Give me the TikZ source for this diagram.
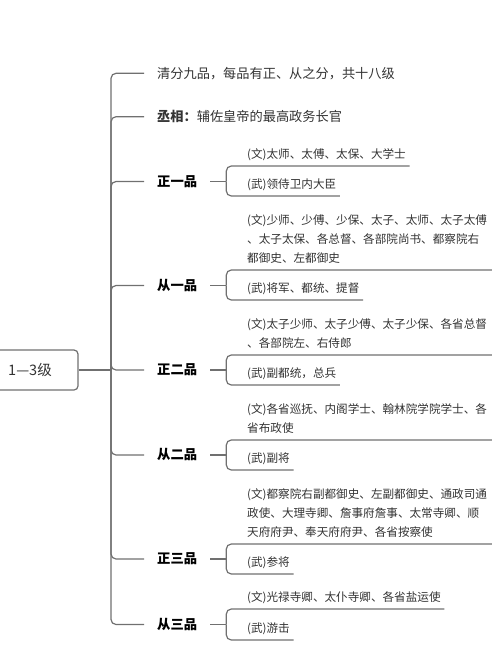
\documentclass[tikz,border=0pt]{standalone}
\usepackage{fontspec}
\setmainfont{Noto Sans CJK SC}
\definecolor{linegray}{HTML}{707070}
\definecolor{inkgray}{HTML}{333333}
\newcommand{\leafpar}[1]{\parbox[b]{241pt}{\raggedright #1}}

\begin{document}
\begin{tikzpicture}[x=1pt, y=1pt,
  every node/.style={inner sep=0pt, text=inkgray},
  link/.style={draw=linegray, line width=1.2pt, rounded corners=5pt},
  root/.style={draw=linegray, line width=1.2pt, rounded corners=4pt, minimum width=96pt, minimum height=40pt, font=\fontsize{14.5}{17}\selectfont},
  note/.style={anchor=west, inner xsep=13pt, font=\fontsize{13.2}{16}\selectfont},
  rank/.style={note, text=black, font=\fontsize{13.3}{16}\selectfont\bfseries},
  leaf/.style={anchor=south west, inner xsep=3.5pt, inner ysep=7.3pt, text depth=0pt, font=\fontsize{11.6}{19}\selectfont}
]
\useasboundingbox (0,0) rectangle (500,-667);
\node[root] (root) at (30,-370) {1—3级};
\coordinate (trunk) at (111,-370);
\node[note] (n1) at (144,-73.3) {清分九品，每品有正、从之分，共十八级};
\node[note] (n2) at (144,-116.7) {\textbf{丞相：}辅佐皇帝的最高政务长官};
\node[rank] (r1) at (144,-181.5) {正一品};
\node[rank] (r2) at (144,-285.5) {从一品};
\node[rank] (r3) at (144,-370) {正二品};
\node[rank] (r4) at (144,-455) {从二品};
\node[rank] (r5) at (144,-559) {正三品};
\node[rank] (r6) at (144,-624.5) {从三品};

\node[leaf] (wen1) at (243.5,-166) {(文)太师、太傅、太保、大学士};
\node[leaf] (wu1) at (243.5,-196) {(武)领侍卫内大臣};
\node[leaf] (wen2) at (243.5,-270) {\leafpar{(文)少师、少傅、少保、太子、太师、太子太傅\\、太子太保、各总督、各部院尚书、都察院右\\都御史、左都御史}};
\node[leaf] (wu2) at (243.5,-300) {(武)将军、都统、提督};
\node[leaf] (wen3) at (243.5,-355) {\leafpar{(文)太子少师、太子少傅、太子少保、各省总督\\、各部院左、右侍郎}};
\node[leaf] (wu3) at (243.5,-385) {(武)副都统，总兵};
\node[leaf] (wen4) at (243.5,-440) {\leafpar{(文)各省巡抚、内阁学士、翰林院学院学士、各\\省布政使}};
\node[leaf] (wu4) at (243.5,-470) {(武)副将};
\node[leaf] (wen5) at (243.5,-544) {\leafpar{(文)都察院右副都御史、左副都御史、通政司通\\政使、大理寺卿、詹事府詹事、太常寺卿、顺\\天府府尹、奉天府府尹、各省按察使}};
\node[leaf] (wu5) at (243.5,-574) {(武)参将};
\node[leaf] (wen6) at (243.5,-609) {(文)光禄寺卿、太仆寺卿、各省盐运使};
\node[leaf] (wu6) at (243.5,-640) {(武)游击};

\draw[link] (root) -- (trunk);
\foreach \b in {n1,n2,r1,r2,r3,r4,r5,r6}
  \draw[link] (trunk) |- (\b.west);
\foreach \i in {1,...,6}{
  \draw[link] (r\i.east) -- ++(16,0) coordinate (b\i);
  \draw[link] (b\i) |- (wen\i.south east);
  \draw[link] (b\i) |- (wu\i.south east);
}
\end{tikzpicture}
\end{document}
